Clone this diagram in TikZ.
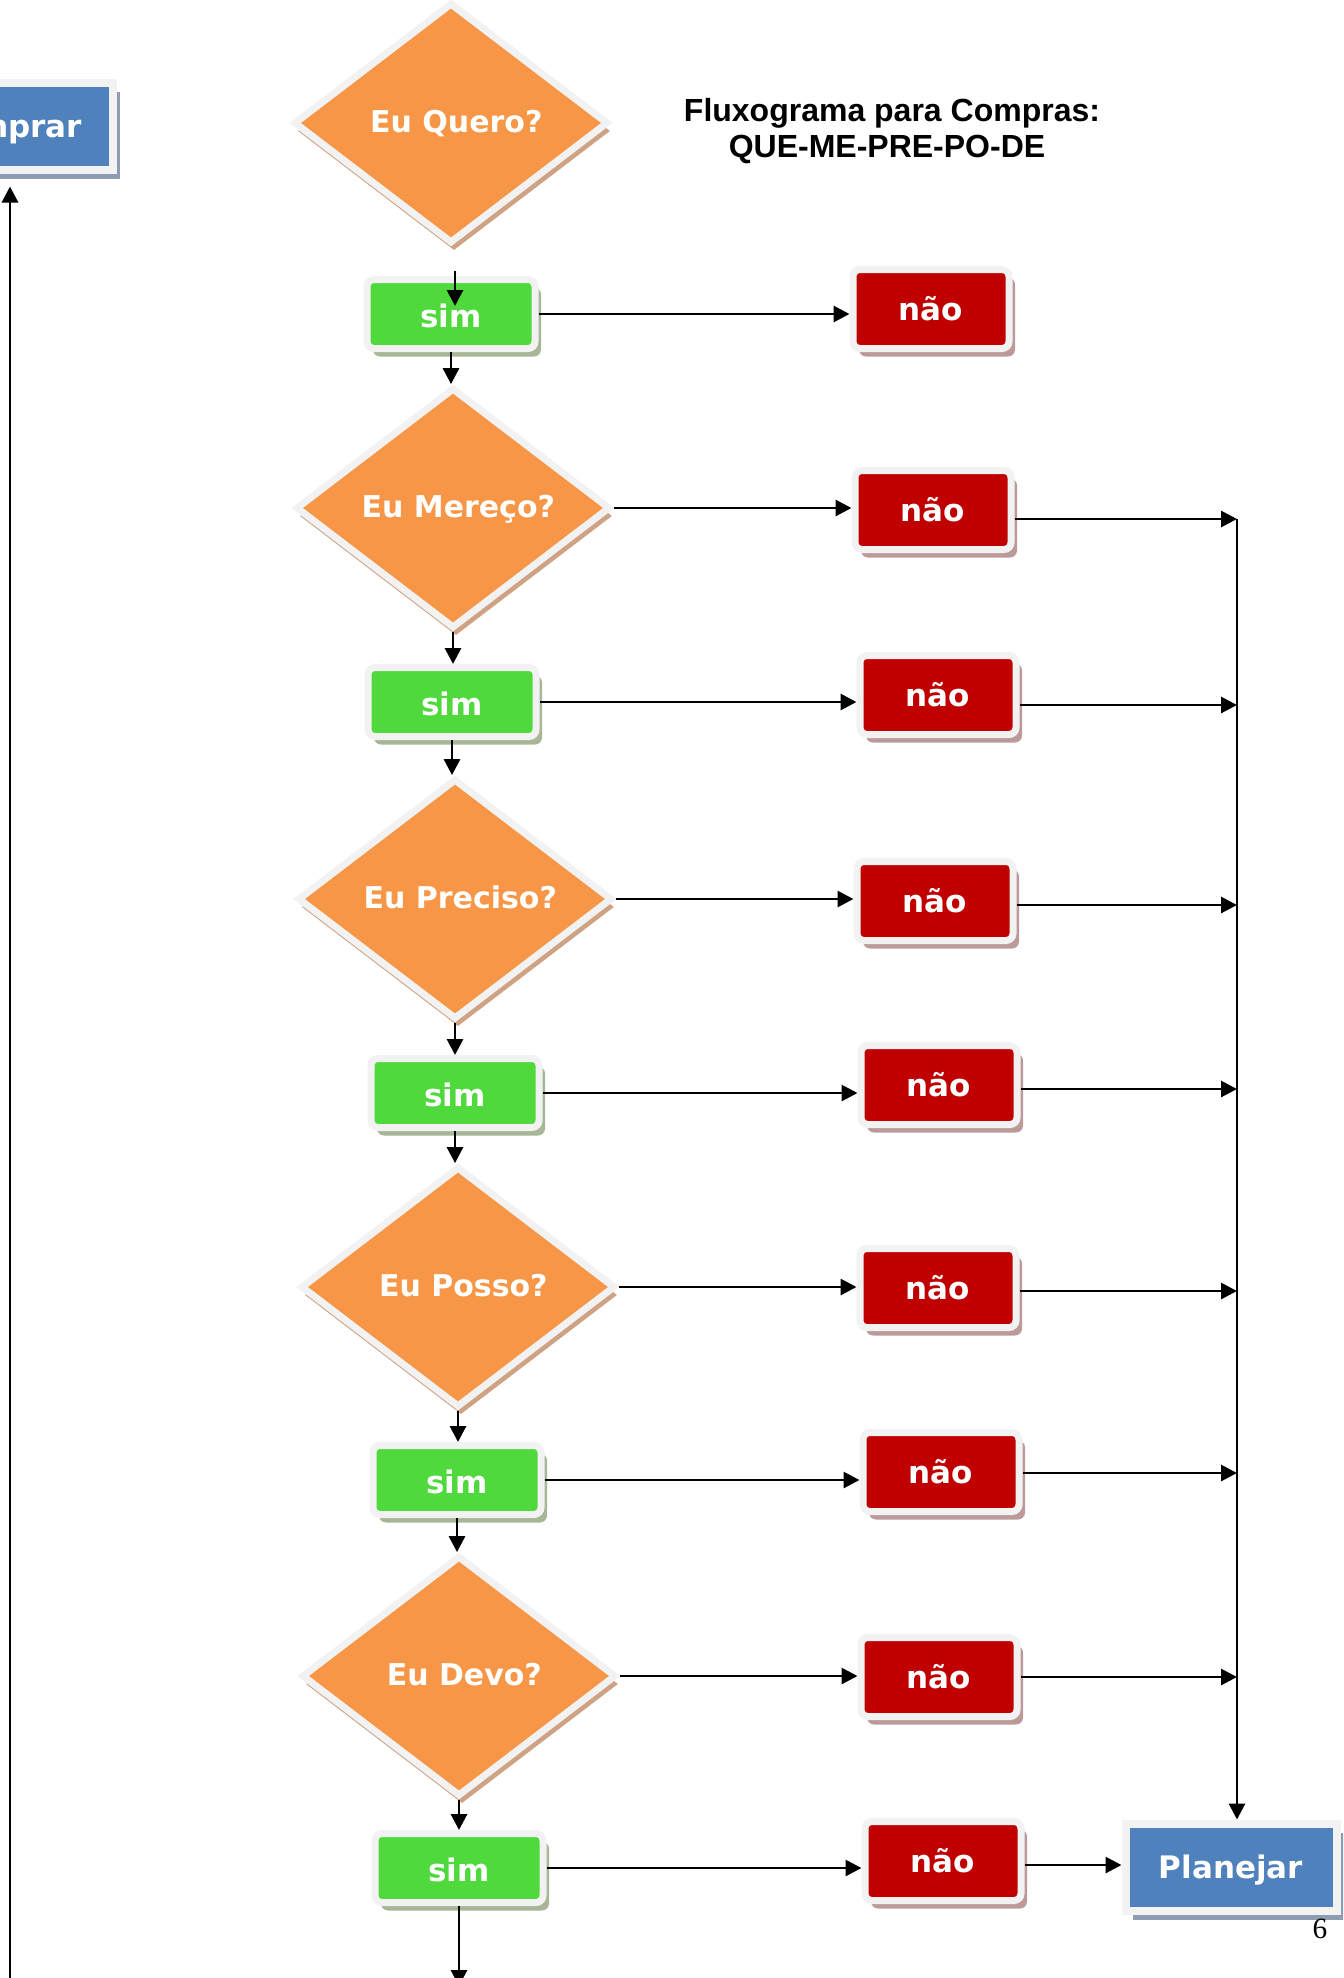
\documentclass[tikz,border=0pt]{standalone}
\usepackage{fontspec}
\setmainfont{DejaVu Sans}
\newfontfamily\titlefont{Liberation Sans}
\newfontfamily\pagefont{Liberation Serif}
\usetikzlibrary{shapes.geometric,shadows,calc,arrows.meta}

\definecolor{rim}{HTML}{F2F2F2}
\definecolor{qfill}{HTML}{F79646}
\definecolor{qshadow}{HTML}{CFA283}
\definecolor{yfill}{HTML}{4FD93C}
\definecolor{yshadow}{HTML}{A8B698}
\definecolor{nfill}{HTML}{C00000}
\definecolor{nshadow}{HTML}{BD9A9A}
\definecolor{efill}{HTML}{4F81BD}
\definecolor{eshadow}{HTML}{8D9CB2}

\tikzset{
  rimmed/.style={draw=rim, inner sep=0pt, text=white},
  boxfont/.style={font=\bfseries\fontsize{23.25}{28}\selectfont},
  question/.style={diamond, rimmed, fill=qfill, line width=5.25pt, line join=miter,
    minimum width=236pt, minimum height=180.6pt,
    font=\bfseries\fontsize{22.5}{27}\selectfont, text height=16.5pt, text depth=3pt,
    drop shadow={shadow xshift=2.25pt, shadow yshift=-6pt, fill=qshadow, opacity=1}},
  yesbox/.style={rectangle, rimmed, boxfont, rounded corners=5.25pt, fill=yfill,
    line width=5.25pt, minimum width=126pt, minimum height=51.75pt,
    text height=19.5pt, text depth=0pt,
    drop shadow={shadow xshift=4.5pt, shadow yshift=-6pt, fill=yshadow, opacity=1}},
  nobox/.style={rectangle, rimmed, boxfont, rounded corners=5.25pt, fill=nfill,
    line width=5.25pt, minimum width=117pt, minimum height=59.25pt,
    text height=17.25pt, text depth=0pt,
    drop shadow={shadow xshift=4.5pt, shadow yshift=-6pt, fill=nshadow, opacity=1}},
  endbox/.style={rectangle, rimmed, boxfont, fill=efill, line width=6pt,
    minimum width=158.25pt, minimum height=65.25pt,
    text height=16.5pt, text depth=0pt,
    drop shadow={shadow xshift=5.25pt, shadow yshift=-6.75pt, fill=eshadow, opacity=1}},
  arr/.style={line width=2.2pt, -{Triangle[length=12pt,width=12pt]}},
}

\begin{document}
\begin{tikzpicture}[x=0.75pt, y=-0.75pt]
\useasboundingbox (0,0) rectangle (1343,1978);
\clip (0,0) rectangle (1343,1978);

% title
\node[font=\titlefont\bfseries\fontsize{24}{28}\selectfont, anchor=base, inner sep=0pt]
  (title1) at (892,121) {Fluxograma para Compras:};
\node[font=\titlefont\bfseries\fontsize{24}{28}\selectfont, anchor=base, inner sep=0pt]
  (title2) at (887,157) {QUE-ME-PRE-PO-DE};

% end boxes
\node[endbox] (C) at (7,126) {Comprar};
\node[endbox] (P) at (1231,1867) {Planejar};

% questions
\node[question] (D1) at (451,123)  {\hspace*{8pt}Eu Quero?};
\node[question] (D2) at (453,508)  {\hspace*{8pt}Eu Mereço?};
\node[question] (D3) at (455,899)  {\hspace*{8pt}Eu Preciso?};
\node[question] (D4) at (458,1287) {\hspace*{8pt}Eu Posso?};
\node[question] (D5) at (459,1676) {\hspace*{8pt}Eu Devo?};

% yes boxes
\node[yesbox] (S1) at (451,314)  {sim};
\node[yesbox] (S2) at (452,702)  {sim};
\node[yesbox] (S3) at (455,1093) {sim};
\node[yesbox] (S4) at (457,1480) {sim};
\node[yesbox] (S5) at (459,1868) {sim};

% no boxes
\node[nobox] (N1) at (931,309)  {não};
\node[nobox] (N2) at (933,510)  {não};
\node[nobox] (N3) at (938,695)  {não};
\node[nobox] (N4) at (935,901)  {não};
\node[nobox] (N5) at (939,1085) {não};
\node[nobox] (N6) at (938,1288) {não};
\node[nobox] (N7) at (941,1472) {não};
\node[nobox] (N8) at (939,1677) {não};
\node[nobox] (N9) at (943,1861) {não};

% page number
\node[font=\pagefont\fontsize{22}{26}\selectfont, anchor=base, inner sep=0pt]
  (pageno) at (1320,1938) {6};

% main column
\draw[arr] ($(D1.south)+(4,24)$) -- ($(S1.north)+(4,30)$);
\draw[arr] (S1.south) -- (S1.south |- D2.north);
\draw[arr] (D2.south) -- (D2.south |- S2.north);
\draw[arr] (S2.south) -- (S2.south |- D3.north);
\draw[arr] (D3.south) -- (D3.south |- S3.north);
\draw[arr] (S3.south) -- (S3.south |- D4.north);
\draw[arr] (D4.south) -- (D4.south |- S4.north);
\draw[arr] (S4.south) -- (S4.south |- D5.north);
\draw[arr] (D5.south) -- (D5.south |- S5.north);
\coordinate (cout) at (455,1986);
\draw[arr] (S5.south) -- (S5.south |- cout);

% branches to the "não" boxes
\draw[arr] (S1.east) -- (S1.east -| N1.west);
\draw[arr] (D2.east) -- (D2.east -| N2.west);
\draw[arr] (S2.east) -- (S2.east -| N3.west);
\draw[arr] (D3.east) -- (D3.east -| N4.west);
\draw[arr] (S3.east) -- (S3.east -| N5.west);
\draw[arr] (D4.east) -- (D4.east -| N6.west);
\draw[arr] (S4.east) -- (S4.east -| N7.west);
\draw[arr] (D5.east) -- (D5.east -| N8.west);
\draw[arr] (S5.east) -- (S5.east -| N9.west);

% collecting line into "Planejar"
\coordinate (bustop) at (1237,519);
\foreach \n/\dy in {N2/9, N3/10, N4/4, N5/4, N6/3, N7/1, N8/0} {
  \coordinate (o\n) at ($(\n.east)+(0,\dy)$);
  \draw[arr] (o\n) -- (o\n -| bustop);
}
\draw[arr] (bustop) -- (bustop |- P.north);
\coordinate (oN9) at ($(N9.east)+(0,4)$);
\draw[arr] (oN9) -- (oN9 -| P.west);

% return line up to "Comprar"
\coordinate (cin) at (10,1990);
\draw[arr] (cin) -- ($(cin |- C.south)+(0,13)$);
\end{tikzpicture}
\end{document}
